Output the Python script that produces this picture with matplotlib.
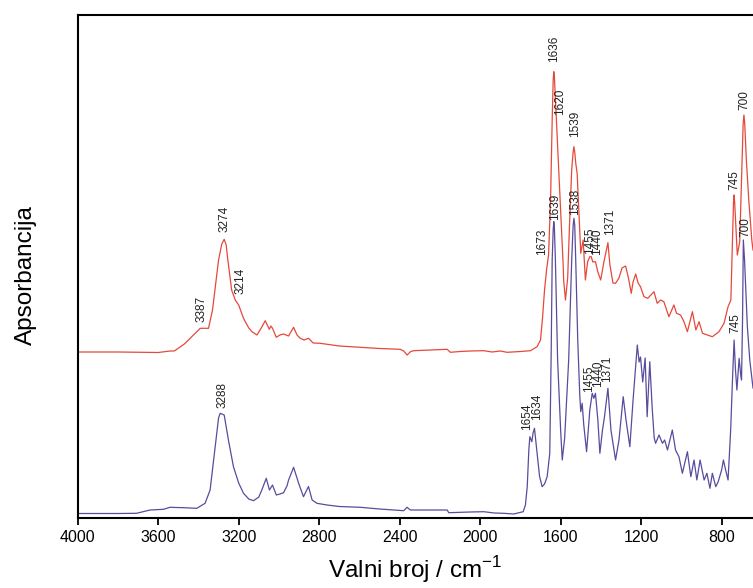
import matplotlib
matplotlib.use("Agg")
import matplotlib.pyplot as plt

plt.rcParams["font.family"] = ["Liberation Sans", "DejaVu Sans"]
plt.rcParams["mathtext.fontset"] = "custom"
plt.rcParams["mathtext.rm"] = "Liberation Sans"

# --- spectra (wavenumber / cm-1, absorbance in arbitrary units) ---
red_wn = [4000, 3800, 3600, 3540, 3520, 3470, 3430, 3400, 3391, 3350, 3330, 3300, 3284, 3272,
          3262, 3255, 3235, 3217, 3200, 3176, 3150, 3134, 3109, 3085, 3068, 3048, 3040, 3032,
          3013, 2995, 2977, 2952, 2927, 2910, 2894, 2875, 2853, 2830, 2795, 2700, 2595, 2500,
          2397, 2380, 2363, 2345, 2330, 2250, 2164, 2148, 2100, 2050, 1982, 1940, 1900, 1866,
          1800, 1750, 1717, 1700, 1690, 1680, 1670, 1660, 1650, 1642, 1637, 1634, 1631, 1628,
          1620, 1609, 1597, 1587, 1585, 1576, 1565, 1555, 1545, 1538, 1534, 1530, 1525, 1518,
          1506, 1500, 1488, 1477, 1466, 1455, 1448, 1440, 1427, 1415, 1401, 1385, 1365, 1355,
          1340, 1327, 1310, 1295, 1277, 1263, 1249, 1240, 1227, 1215, 1203, 1186, 1167, 1136,
          1120, 1103, 1087, 1062, 1037, 1024, 1004, 987, 970, 945, 928, 912, 895, 870, 846,
          813, 788, 768, 754, 741, 738, 735, 722, 710, 693, 689, 685, 677, 665, 650, 644]
red_abs = [166, 166, 165.5, 167, 167, 174, 182, 188, 189.7, 189.7, 208, 258, 274, 278.7,
           273, 260, 228, 218, 213, 199.7, 190, 186.3, 183, 191, 197.3, 188.7, 192, 189.7,
           180.7, 183, 184, 182, 190.7, 183, 179.7, 178, 179.7, 175, 174.7, 172, 170.7, 169.5,
           168.7, 167, 163, 166.5, 167.3, 168, 168.7, 165.7, 166.5, 167, 167.3, 166, 167, 165.7,
           166.5, 167.3, 171.3, 178, 200, 228, 248, 263, 318, 398, 438, 446.3, 441, 428,
           395, 344.7, 295, 251.3, 238, 218, 240, 298, 348, 366, 371.3, 366, 355, 344.7,
           291.3, 264.7, 278, 238, 256, 261.3, 261.3, 256, 256.3, 246, 238, 256, 275.3, 253,
           235, 234.7, 240, 250, 252, 240, 224.7, 236, 244, 235, 231.3, 221.3, 219.7, 226.3,
           214.7, 218, 216.3, 201.3, 213, 204.7, 203, 196.3, 186.3, 206.3, 188, 196.3, 184.7, 183, 181.3,
           186.3, 194.7, 211.3, 218, 315, 323, 315, 263, 276.3, 394, 403, 394, 358, 318, 278, 268]

purple_wn = [4000, 3800, 3708, 3640, 3574, 3541, 3475, 3408, 3367, 3342, 3317, 3300, 3292, 3272,
             3251, 3226, 3200, 3176, 3150, 3126, 3100, 3085, 3063, 3047, 3032, 3013, 2995, 2977,
             2960, 2952, 2927, 2915, 2902, 2878, 2853, 2835, 2811, 2761, 2700, 2595, 2500, 2380,
             2363, 2347, 2250, 2164, 2156, 2050, 1982, 1930, 1883, 1833, 1786, 1775, 1766, 1758,
             1753, 1743, 1737, 1730, 1717, 1705, 1692, 1680, 1667, 1654, 1647, 1642, 1637, 1634,
             1631, 1626, 1615, 1600, 1592, 1580, 1560, 1545, 1538, 1534, 1530, 1525, 1515, 1505,
             1500, 1493, 1485, 1471, 1455, 1443, 1435, 1427, 1415, 1405, 1392, 1382, 1365, 1350,
             1327, 1310, 1289, 1275, 1256, 1240, 1219, 1210, 1203, 1192, 1180, 1170, 1157, 1145,
             1135, 1128, 1111, 1094, 1083, 1069, 1045, 1029, 1012, 995, 970, 953, 937, 923, 907,
             887, 873, 858, 846, 829, 817, 800, 791, 780, 768, 755, 746, 738, 731, 724, 713, 705,
             701, 696, 692, 686, 672, 660, 644]
purple_abs = [4.5, 4.5, 4.7, 8, 8.7, 10.7, 10.3, 9.7, 14.7, 28, 71.3, 100, 104.7, 103,
              78, 51.3, 35, 24.7, 19, 17.3, 21, 28, 39.7, 28, 33, 23, 24, 25.3,
              32, 38, 50.7, 43, 34.7, 21.3, 31.5, 18, 14.7, 13, 11.5, 10.7, 9, 7.3,
              10.7, 8, 8, 8, 5.3, 6, 6.3, 5, 4.7, 4, 6.3, 13, 31.3, 68,
              81.3, 76.3, 85, 89.7, 64.7, 42, 31.3, 34, 41.3, 64.7, 164.7, 258, 288, 296.3,
              290, 258, 158, 88, 58, 80, 158, 258, 292, 299.7, 293, 258, 178, 123,
              106.3, 114.7, 93, 66.3, 108, 124.7, 119.7, 124.7, 98, 64.7, 88, 101.3, 129.7, 88,
              58, 78, 121.3, 98, 71.3, 118, 173, 156, 161, 136, 160, 101.3, 156.3, 110,
              80, 74.7, 83, 74.7, 78, 68, 88, 68, 61.3, 44.7, 66.3, 41.3, 58, 38, 58,
              38, 44.7, 29.7, 44.7, 31.3, 36.3, 48, 58, 48, 38, 88, 138, 178, 148, 128, 159.7, 143,
              138, 198, 278, 258, 191.3, 158, 130]

# --- peak labels: text, position of label (wavenumber, absorbance at its lower end) ---
red_labels = ["3387", "3274", "3214", "1673", "1636", "1620", "1539", "1455", "1440", "1371", "745", "700"]
red_label_wn = [3387, 3272, 3193, 1692, 1634, 1604, 1526, 1455, 1418, 1352, 738, 689]
red_label_abs = [196, 286, 224, 263, 456, 403, 381, 264, 263, 283, 328, 408]

purple_labels = ["3288", "1654", "1634", "1639", "1538", "1455", "1440", "1371", "745", "700"]
purple_label_wn = [3279, 1766, 1716, 1630, 1526, 1460, 1413, 1368, 733, 684]
purple_label_abs = [110, 88, 98, 298, 303, 126, 131, 136, 185, 281]

red_color = "#e5493b"
purple_color = "#5a4b9c"

fig = plt.figure(figsize=(7.53, 5.88), dpi=100)
ax = fig.add_axes([77.7 / 753, 70 / 588, 675.3 / 753, 503 / 588])

ax.plot(purple_wn, purple_abs, color=purple_color, lw=0.9)
ax.plot(red_wn, red_abs, color=red_color, lw=0.9)

for txt, x, y in zip(red_labels, red_label_wn, red_label_abs):
    ax.text(x, y, txt, rotation=90, ha="center", va="bottom", fontsize=8.5, color="#222222")
for txt, x, y in zip(purple_labels, purple_label_wn, purple_label_abs):
    ax.text(x, y, txt, rotation=90, ha="center", va="bottom", fontsize=8.5, color="#222222")

ax.set_xlim(4000, 644)
ax.set_ylim(0, 503)
ax.set_xticks([4000, 3600, 3200, 2800, 2400, 2000, 1600, 1200, 800])
ax.set_yticks([])
ax.tick_params(axis="x", direction="out", length=5, width=1.3, labelsize=11.5, pad=4)
for side in ["left", "top", "bottom"]:
    ax.spines[side].set_linewidth(1.5)
ax.spines["right"].set_visible(False)

ax.set_xlabel(r"Valni broj / cm$^{\mathregular{-1}}$", fontsize=17.5)
ax.xaxis.set_label_coords(0.5, -0.072)
ax.set_ylabel("Apsorbancija", fontsize=17.5)
ax.yaxis.set_label_coords(-0.060, 0.483)

fig.savefig("out.png", dpi=100)
